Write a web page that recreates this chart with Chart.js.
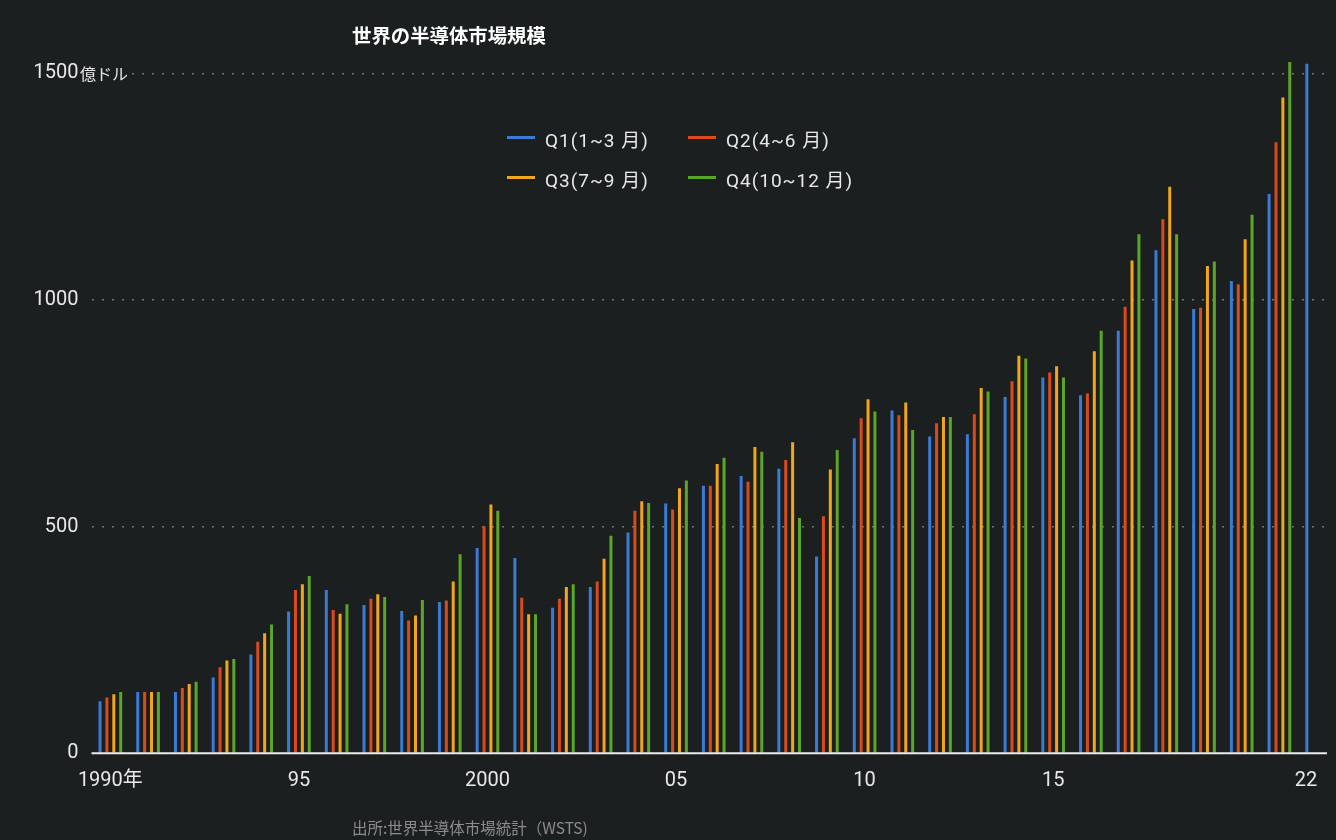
<!DOCTYPE html>
<html lang="ja">
<head>
<meta charset="utf-8">
<script src="https://cdn.jsdelivr.net/npm/chart.js@4.4.1/dist/chart.umd.min.js"></script>
<style>
  html, body { margin: 0; padding: 0; background: #1c1f20; }
  #wrap { position: relative; width: 1336px; height: 840px; overflow: hidden; }
  #chart { position: absolute; left: 0; top: 0; width: 1336px; height: 840px; }
  .txt { position: absolute; white-space: nowrap; height: 24px; line-height: 24px; }
  #title { left: 352px; top: 20px; font: bold 19.4px "Noto Sans CJK JP", sans-serif; color: #fff; }
  #source { left: 352px; top: 816px; font: 15.5px "Noto Sans CJK JP", sans-serif; color: #8c8c8c; }
  .leg { font: 19px Roboto, "Noto Sans CJK JP", sans-serif; color: #e8e8e8; letter-spacing: 1px; }
  .sw { position: absolute; width: 28px; height: 3px; }
</style>
</head>
<body>
<div id="wrap">
  <canvas id="chart" width="1336" height="840"></canvas>
  <div id="title" class="txt">世界の半導体市場規模</div>
  <div id="legend"></div>
  <div id="source" class="txt">出所:世界半導体市場統計（WSTS)</div>
</div>
<script>
// 億ドル, quarterly sales by year
const years = ['1990', '1991', '1992', '1993', '1994', '1995', '1996', '1997', '1998', '1999',
  '2000', '2001', '2002', '2003', '2004', '2005', '2006', '2007', '2008', '2009',
  '2010', '2011', '2012', '2013', '2014', '2015', '2016', '2017', '2018', '2019',
  '2020', '2021', '2022'];

const q1 = [115, 135, 135, 167, 218, 313, 360, 327, 314, 334, 453, 431, 321, 367, 487, 551, 590,
  612, 628, 434, 695, 756, 699, 704, 786, 829, 790, 932, 1110, 980, 1042, 1234, 1521];
const q2 = [123, 135, 144, 190, 246, 360, 316, 341, 293, 337, 501, 343, 341, 379, 535, 538, 590,
  599, 647, 523, 739, 746, 728, 748, 821, 840, 794, 985, 1178, 983, 1035, 1348, null];
const q3 = [130, 135, 153, 205, 265, 373, 308, 351, 304, 379, 549, 307, 367, 429, 556, 585, 638,
  676, 686, 626, 781, 774, 742, 806, 877, 854, 887, 1087, 1250, 1075, 1134, 1447, null];
const q4 = [135, 135, 158, 208, 284, 391, 329, 345, 338, 439, 535, 307, 373, 480, 552, 602, 652,
  665, 519, 669, 754, 713, 742, 798, 871, 829, 932, 1145, 1145, 1085, 1188, 1525, null];

const seriesNames = ['Q1(1~3 月)', 'Q2(4~6 月)', 'Q3(7~9 月)', 'Q4(10~12 月)'];
const seriesColors = ['#3a7bd5', '#db4a1a', '#f2a61b', '#5aa629'];

const tickYears = ['1990', '1995', '2000', '2005', '2010', '2015', '2022'];
const tickTexts = ['1990年', '95', '2000', '05', '10', '15', '22'];

const BG = '#1c1f20';

// legend (2 x 2)
const legendPos = [[507, 137], [688, 137], [507, 177], [688, 177]];
const legend = document.getElementById('legend');
seriesNames.forEach((name, i) => {
  const [lx, ly] = legendPos[i];
  const sw = document.createElement('div');
  sw.className = 'sw';
  sw.style.left = lx + 'px';
  sw.style.top = (ly - 1.5) + 'px';
  sw.style.background = seriesColors[i];
  legend.appendChild(sw);
  const t = document.createElement('div');
  t.className = 'txt leg';
  t.style.left = (lx + 38) + 'px';
  t.style.top = (ly - 12) + 'px';
  t.textContent = name;
  legend.appendChild(t);
});

const axisExtras = {
  id: 'axisExtras',
  // trim grid lines at the right edge, before the bars go on
  beforeDatasetsDraw(chart) {
    const { ctx, chartArea } = chart;
    ctx.save();
    ctx.fillStyle = BG;
    ctx.fillRect(chartArea.right - 11, chartArea.top - 5, 11, chartArea.bottom - chartArea.top + 5);
    ctx.restore();
  },
  afterDraw(chart) {
    const { ctx, chartArea, scales: { x, y } } = chart;
    ctx.save();
    // unit next to the top tick
    const y1500 = y.getPixelForValue(1500);
    ctx.fillStyle = BG;
    ctx.fillRect(chartArea.left - 12, y1500 - 4, 50, 8);
    ctx.fillStyle = '#e8e8e8';
    ctx.font = '16px "Noto Sans CJK JP", sans-serif';
    ctx.textAlign = 'left';
    ctx.textBaseline = 'middle';
    ctx.fillText('億ドル', chartArea.left - 11.5, y1500 + 1);

    // base line
    const y0 = y.getPixelForValue(0);
    ctx.strokeStyle = '#ececec';
    ctx.lineWidth = 2;
    ctx.beginPath();
    ctx.moveTo(chartArea.left, y0);
    ctx.lineTo(chartArea.right - 9, y0);
    ctx.stroke();

    // year labels
    ctx.font = '20px Roboto, "Noto Sans CJK JP", sans-serif';
    ctx.fillStyle = '#e8e8e8';
    ctx.textBaseline = 'alphabetic';
    tickYears.forEach((yr, i) => {
      const px = x.getPixelForValue(years.indexOf(yr));
      ctx.textAlign = i === tickYears.length - 1 ? 'right' : 'center';
      ctx.fillText(tickTexts[i], px, y0 + 33);
    });
    ctx.restore();
  }
};

const datasets = [q1, q2, q3, q4].map((d, i) => ({
  label: seriesNames[i],
  data: d,
  backgroundColor: seriesColors[i],
  borderWidth: 0,
  categoryPercentage: 0.73,
  barPercentage: 0.44,
  maxBarThickness: 3,
}));

new Chart(document.getElementById('chart'), {
  type: 'bar',
  data: { labels: years, datasets },
  options: {
    responsive: false,
    animation: false,
    devicePixelRatio: 1,
    layout: { padding: { top: 50.7, bottom: 86.7, left: 0, right: 0 } },
    plugins: {
      legend: { display: false },
      title: { display: false },
      tooltip: { enabled: false },
    },
    scales: {
      x: {
        grid: { display: false },
        border: { display: false },
        ticks: { display: false },
        afterFit(s) { s.height = 0; },
      },
      y: {
        min: 0,
        max: 1550,
        afterFit(s) { s.width = 91.5; },
        ticks: {
          stepSize: 50,
          autoSkip: false,
          includeBounds: false,
          padding: 13,
          color: '#e8e8e8',
          font: { family: 'Roboto', size: 20 },
          callback: (v) => (v % 500 === 0 ? String(v) : null),
        },
        grid: {
          color: (c) => (c.tick && c.tick.value === 0 ? 'rgba(0,0,0,0)' : 'rgba(170,170,170,0.6)'),
          lineWidth: 1.5,
          drawTicks: false,
        },
        border: { display: false, dash: [2, 8] },
      },
    },
  },
  plugins: [axisExtras],
});
</script>
</body>
</html>
